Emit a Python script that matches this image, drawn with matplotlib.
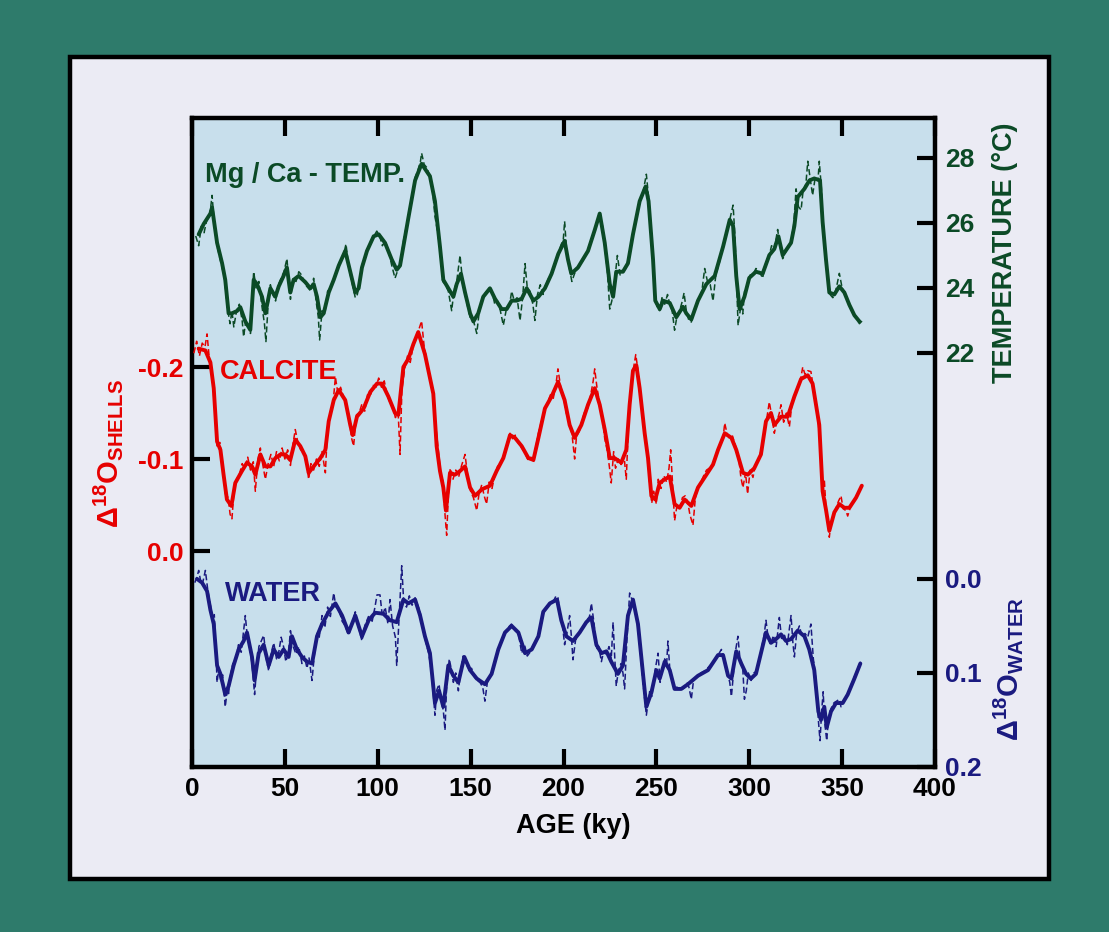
import numpy as np
import matplotlib
matplotlib.use('Agg')
import matplotlib.pyplot as plt
from matplotlib.patches import Rectangle

plt.rcParams['font.family'] = ['Liberation Sans', 'DejaVu Sans']
plt.rcParams['font.weight'] = 'bold'
plt.rcParams['mathtext.fontset'] = 'custom'
plt.rcParams['mathtext.rm'] = 'Liberation Sans:bold'
plt.rcParams['mathtext.it'] = 'Liberation Sans:bold'
plt.rcParams['mathtext.bf'] = 'Liberation Sans:bold'
plt.rcParams['mathtext.sf'] = 'Liberation Sans:bold'

GREEN = '#0b4a26'
RED = '#e60000'
NAVY = '#1a1a80'

# ---- Mg/Ca temperature (age ky, deg C) ----
temp_smooth = [(3.6, 25.65), (6.3, 25.97), (9.9, 26.29), (10.8, 26.48), (13.5, 25.39), (16.2, 24.76),
               (17.9, 24.25), (19.7, 23.22), (21.5, 23.22), (24.2, 23.29), (26.0, 23.41), (28.7, 22.97),
               (31.4, 22.71), (33.2, 24.25), (35.0, 24.12), (37.7, 23.73), (39.5, 23.22), (42.2, 23.99),
               (44.9, 23.73), (46.7, 24.05), (49.3, 24.37), (51.1, 24.63), (52.9, 23.86), (54.7, 24.25),
               (57.4, 24.37), (61.0, 24.18), (63.7, 23.99), (65.5, 24.12), (67.3, 23.73), (69.1, 23.10),
               (70.9, 23.22), (73.6, 23.86), (76.3, 24.25), (79.0, 24.69), (82.5, 25.14), (85.2, 24.50),
               (87.9, 23.86), (89.7, 23.99), (91.5, 24.63), (94.2, 25.14), (97.8, 25.59), (100.5, 25.65),
               (103.9, 25.39), (107.5, 24.88), (110.2, 24.56), (112.0, 24.69), (116.5, 26.16), (120.1, 27.31),
               (123.6, 27.82), (128.1, 27.44), (130.8, 26.67), (133.5, 25.27), (135.3, 24.25), (138.0, 23.99),
               (140.7, 23.73), (142.5, 24.12), (144.8, 24.44), (147.0, 23.86), (149.7, 23.22), (151.5, 22.97),
               (154.1, 23.22), (156.8, 23.73), (160.4, 23.99), (163.1, 23.67), (166.7, 23.35), (169.4, 23.35),
               (172.1, 23.61), (174.8, 23.61), (177.5, 23.67), (180.2, 23.99), (183.8, 23.61), (186.5, 23.73),
               (190.0, 23.99), (193.6, 24.44), (197.2, 25.05), (200.6, 25.45), (202.4, 24.88), (204.2, 24.44),
               (207.8, 24.63), (213.2, 25.14), (216.8, 25.78), (219.5, 26.29), (222.2, 25.39), (224.9, 24.12),
               (226.7, 23.73), (228.4, 24.50), (232.0, 24.50), (234.7, 24.76), (237.4, 25.65), (241.0, 26.67),
               (244.2, 27.12), (245.8, 26.67), (248.2, 24.88), (249.4, 23.61), (251.8, 23.35), (253.6, 23.61),
               (257.2, 23.54), (260.7, 23.10), (264.3, 23.42), (266.1, 23.22), (268.8, 23.03), (272.4, 23.61),
               (276.9, 24.12), (281.4, 24.37), (285.9, 25.27), (289.5, 26.10), (291.3, 25.91), (293.0, 24.37),
               (294.8, 23.35), (297.4, 23.73), (300.0, 24.31), (303.6, 24.50), (307.2, 24.44), (310.8, 25.01),
               (313.5, 25.20), (315.7, 25.59), (318.0, 25.01), (322.5, 25.39), (324.3, 25.91), (326.1, 26.80),
               (329.7, 27.05), (332.4, 27.31), (335.0, 27.37), (338.1, 27.31), (339.5, 26.03), (341.3, 24.88),
               (343.1, 23.86), (345.8, 23.80), (348.5, 24.05), (351.2, 23.86), (353.9, 23.48), (356.6, 23.16),
               (359.3, 22.97)]

temp_raw = [(2.0, 25.6), (3.6, 25.3), (5.0, 25.9), (6.5, 25.7), (8.0, 26.1), (9.5, 26.2), (10.8, 26.85),
            (12.0, 26.0), (13.5, 25.3), (15.5, 24.8), (17.5, 24.3), (19.0, 23.4), (20.5, 22.9), (21.5, 23.3),
            (22.5, 22.8), (24.0, 23.3), (25.5, 23.5), (27.0, 23.0), (27.8, 22.5), (29.0, 23.0), (30.5, 22.8),
            (31.5, 22.6), (32.5, 23.8), (33.2, 24.5), (34.5, 24.0), (36.0, 24.2), (37.5, 23.5), (39.0, 22.9),
            (39.8, 22.35), (41.0, 23.5), (42.2, 24.1), (43.5, 23.8), (45.0, 23.6), (46.5, 24.1), (48.0, 24.3),
            (49.5, 24.5), (51.1, 24.9), (52.0, 24.3), (53.0, 23.65), (54.5, 24.3), (56.0, 24.2), (57.5, 24.5),
            (59.0, 24.4), (61.0, 24.1), (62.5, 24.0), (64.0, 23.9), (65.5, 24.3), (66.8, 23.6), (68.0, 23.1),
            (68.7, 22.4), (70.0, 23.3), (71.5, 23.2), (73.0, 23.9), (74.5, 24.0), (76.3, 24.3), (78.0, 24.5),
            (79.5, 24.8), (81.5, 25.0), (82.9, 25.35), (84.5, 24.6), (86.0, 24.2), (87.9, 23.7), (89.0, 23.8),
            (90.5, 24.2), (91.5, 24.7), (93.0, 24.9), (94.5, 25.2), (96.0, 25.4), (98.0, 25.6), (99.5, 25.75),
            (101.0, 25.6), (102.5, 25.3), (104.0, 25.45), (106.0, 25.1), (107.5, 24.7), (109.3, 24.3),
            (110.5, 24.5), (112.0, 24.7), (114.0, 25.5), (116.5, 26.2), (118.5, 26.8), (120.1, 27.4),
            (121.5, 27.6), (123.0, 27.9), (123.6, 28.15), (125.0, 27.8), (126.5, 27.7), (128.1, 27.4),
            (129.5, 27.0), (130.8, 26.2), (132.0, 25.8), (133.5, 25.2), (135.0, 24.2), (136.5, 24.1),
            (138.0, 23.9), (139.8, 23.3), (141.0, 23.9), (142.5, 24.2), (144.3, 25.0), (145.5, 24.3),
            (147.0, 23.8), (148.5, 23.4), (149.7, 23.1), (151.5, 23.0), (153.3, 22.6), (154.5, 23.2),
            (156.0, 23.6), (158.0, 23.85), (160.4, 24.0), (161.5, 23.9), (163.0, 23.5), (164.5, 23.6),
            (166.0, 23.3), (167.6, 22.85), (169.4, 23.4), (171.0, 23.5), (172.1, 23.9), (173.5, 23.6),
            (175.0, 23.7), (176.6, 23.0), (178.0, 23.7), (179.3, 24.75), (180.5, 24.0), (182.0, 23.9),
            (183.5, 23.5), (184.6, 23.0), (186.0, 23.8), (187.5, 24.1), (189.0, 23.8), (190.5, 24.1),
            (192.0, 24.3), (193.6, 24.4), (195.0, 24.7), (197.2, 25.0), (198.5, 25.3), (199.9, 25.5),
            (200.6, 26.05), (201.5, 25.3), (202.5, 24.8), (203.5, 24.5), (204.5, 24.2), (206.0, 24.45),
            (207.8, 24.6), (210.0, 24.8), (212.0, 25.0), (213.5, 25.2), (215.0, 25.5), (217.0, 25.8),
            (218.5, 26.1), (219.5, 26.35), (221.0, 25.9), (222.2, 25.3), (223.5, 24.6), (224.9, 23.35),
            (226.0, 23.6), (227.5, 24.2), (229.0, 25.0), (230.5, 24.4), (232.0, 24.5), (233.5, 24.6),
            (235.0, 24.9), (236.5, 25.4), (238.0, 25.8), (240.0, 26.4), (241.5, 26.7), (243.0, 27.0),
            (244.6, 27.5), (245.8, 26.8), (247.0, 25.9), (248.2, 24.9), (249.4, 23.7), (250.5, 23.4),
            (251.8, 23.3), (253.0, 23.7), (254.5, 23.5), (256.0, 23.8), (257.2, 23.5), (258.5, 23.3),
            (259.8, 22.7), (261.0, 23.1), (262.5, 23.3), (264.0, 23.6), (264.9, 23.85), (266.1, 23.3),
            (267.5, 23.0), (268.8, 22.95), (270.0, 23.2), (272.4, 23.6), (274.5, 23.9), (276.0, 24.6),
            (277.5, 24.2), (279.0, 24.1), (280.5, 23.6), (282.0, 24.4), (284.0, 24.8), (285.9, 25.3),
            (287.5, 25.6), (289.5, 26.1), (291.3, 26.55), (292.3, 25.6), (293.0, 24.5), (294.0, 22.85),
            (295.6, 23.5), (296.5, 23.2), (297.5, 23.9), (299.3, 24.1), (300.5, 24.4), (302.0, 24.4),
            (303.6, 24.6), (305.5, 24.5), (307.2, 24.3), (308.5, 24.7), (310.8, 25.0), (312.0, 25.3),
            (313.5, 25.2), (315.3, 25.8), (316.5, 25.3), (318.0, 24.9), (319.5, 25.1), (321.0, 25.3),
            (322.5, 25.4), (324.0, 26.0), (325.2, 27.05), (326.5, 26.5), (327.9, 26.4), (329.0, 27.0),
            (330.5, 27.2), (331.5, 27.9), (333.0, 27.3), (334.1, 26.85), (335.5, 27.4), (337.0, 27.3),
            (337.7, 27.9), (338.8, 27.1), (339.5, 26.2), (340.5, 25.4), (341.3, 24.9), (342.5, 24.3),
            (343.5, 23.8), (345.0, 23.7), (346.5, 23.9), (348.5, 24.45), (350.0, 24.0), (351.5, 23.85),
            (353.0, 23.6), (354.5, 23.4), (356.0, 23.2), (357.5, 23.1), (359.3, 22.9), (361.0, 23.0)]

# ---- calcite d18O difference (shells) ----
calc_smooth = [(3.6, -0.220), (7.2, -0.218), (9.9, -0.205), (11.7, -0.177), (13.5, -0.119), (15.3, -0.110),
               (17.0, -0.083), (18.8, -0.056), (21.2, -0.049), (23.3, -0.074), (26.9, -0.087), (29.6, -0.096),
               (32.3, -0.092), (34.1, -0.083), (36.8, -0.105), (39.5, -0.092), (42.2, -0.092), (44.9, -0.101),
               (47.6, -0.105), (50.2, -0.105), (52.9, -0.099), (55.6, -0.121), (58.3, -0.114), (61.0, -0.103),
               (62.8, -0.085), (65.5, -0.092), (69.1, -0.101), (71.8, -0.110), (73.6, -0.141), (76.3, -0.164),
               (79.0, -0.175), (82.5, -0.164), (85.2, -0.137), (86.5, -0.126), (88.8, -0.146), (92.4, -0.155),
               (96.0, -0.173), (99.6, -0.182), (102.3, -0.182), (105.7, -0.168), (109.3, -0.150), (111.1, -0.148),
               (113.8, -0.200), (116.5, -0.209), (119.2, -0.225), (121.8, -0.238), (125.4, -0.214), (129.9, -0.171),
               (131.7, -0.114), (133.5, -0.087), (135.3, -0.069), (136.7, -0.044), (138.9, -0.085), (141.6, -0.083),
               (144.3, -0.087), (147.0, -0.092), (149.7, -0.069), (152.4, -0.060), (156.0, -0.067), (160.4, -0.071),
               (164.0, -0.087), (167.6, -0.101), (171.2, -0.126), (173.9, -0.123), (177.5, -0.114), (181.1, -0.101),
               (183.8, -0.099), (186.5, -0.123), (190.0, -0.155), (193.6, -0.168), (197.1, -0.184), (200.6, -0.164),
               (203.3, -0.137), (206.0, -0.123), (209.6, -0.137), (213.2, -0.159), (216.8, -0.177), (219.5, -0.159),
               (222.2, -0.132), (224.9, -0.101), (227.5, -0.101), (231.1, -0.096), (233.8, -0.110), (235.6, -0.159),
               (237.4, -0.196), (239.2, -0.202), (241.0, -0.177), (243.7, -0.128), (245.5, -0.101), (247.3, -0.060),
               (249.4, -0.056), (251.8, -0.074), (254.5, -0.078), (257.2, -0.081), (259.8, -0.051), (262.5, -0.047),
               (265.2, -0.056), (268.8, -0.049), (272.4, -0.069), (276.9, -0.083), (280.5, -0.094), (283.2, -0.110),
               (286.8, -0.128), (290.4, -0.123), (293.0, -0.110), (296.6, -0.085), (299.2, -0.083), (302.7, -0.090),
               (306.3, -0.105), (309.0, -0.141), (311.7, -0.150), (313.5, -0.137), (317.1, -0.146), (320.7, -0.146),
               (324.3, -0.168), (327.9, -0.187), (331.5, -0.191), (334.1, -0.182), (337.7, -0.137), (339.5, -0.065),
               (341.3, -0.045), (343.1, -0.022), (345.8, -0.042), (348.5, -0.051), (351.2, -0.047), (353.9, -0.047),
               (357.5, -0.058), (360.6, -0.071)]

calc_raw = [(1.0, -0.215), (2.5, -0.228), (4.0, -0.212), (5.5, -0.226), (7.0, -0.222), (8.1, -0.236),
            (9.5, -0.205), (11.0, -0.185), (12.5, -0.150), (13.5, -0.112), (15.0, -0.118), (16.5, -0.095),
            (18.0, -0.062), (19.5, -0.058), (20.5, -0.040), (21.5, -0.035), (22.5, -0.062), (24.0, -0.078),
            (25.5, -0.083), (27.0, -0.095), (28.5, -0.090), (30.0, -0.102), (31.5, -0.088), (33.0, -0.097),
            (34.1, -0.065), (35.5, -0.100), (36.8, -0.112), (38.0, -0.095), (39.5, -0.078), (41.0, -0.095),
            (42.5, -0.105), (44.0, -0.092), (45.5, -0.108), (47.0, -0.098), (48.5, -0.112), (50.0, -0.100),
            (51.5, -0.110), (53.0, -0.093), (54.5, -0.118), (55.6, -0.132), (57.0, -0.118), (58.5, -0.110),
            (60.0, -0.108), (61.5, -0.098), (62.8, -0.078), (64.0, -0.095), (65.5, -0.088), (67.0, -0.100),
            (68.5, -0.092), (70.0, -0.108), (71.8, -0.085), (73.0, -0.135), (74.5, -0.150), (76.0, -0.162),
            (77.2, -0.189), (78.5, -0.172), (80.0, -0.178), (81.5, -0.168), (83.0, -0.160), (84.5, -0.145),
            (86.0, -0.122), (87.0, -0.114), (88.5, -0.148), (90.0, -0.150), (91.5, -0.160), (93.0, -0.152),
            (94.5, -0.170), (96.0, -0.168), (97.5, -0.180), (99.0, -0.178), (100.5, -0.188), (102.0, -0.178),
            (103.5, -0.185), (105.0, -0.170), (106.5, -0.162), (108.0, -0.158), (109.5, -0.145), (111.0, -0.150),
            (112.0, -0.105), (113.0, -0.175), (114.5, -0.198), (116.0, -0.212), (117.5, -0.205), (119.0, -0.222),
            (120.5, -0.232), (122.0, -0.240), (123.6, -0.250), (125.0, -0.222), (126.5, -0.205), (128.0, -0.190),
            (129.9, -0.172), (131.0, -0.140), (132.6, -0.110), (134.0, -0.082), (135.3, -0.075), (136.2, -0.040),
            (137.1, -0.017), (138.0, -0.060), (139.0, -0.090), (140.5, -0.078), (142.0, -0.088), (143.5, -0.080),
            (145.0, -0.092), (147.0, -0.105), (148.5, -0.080), (150.0, -0.065), (151.5, -0.058), (153.3, -0.044),
            (154.5, -0.062), (156.0, -0.072), (157.3, -0.060), (158.6, -0.051), (160.0, -0.075), (161.5, -0.068),
            (163.0, -0.082), (164.5, -0.092), (166.0, -0.095), (167.6, -0.103), (169.0, -0.112), (171.2, -0.128),
            (172.5, -0.122), (174.0, -0.126), (175.5, -0.118), (177.5, -0.112), (179.0, -0.108), (181.1, -0.098),
            (182.5, -0.102), (183.8, -0.096), (185.0, -0.112), (186.5, -0.128), (188.0, -0.140), (190.0, -0.152),
            (191.5, -0.162), (193.0, -0.170), (194.5, -0.166), (196.0, -0.182), (197.0, -0.198), (198.5, -0.178),
            (200.0, -0.168), (201.5, -0.150), (203.0, -0.140), (204.5, -0.128), (206.0, -0.100), (207.0, -0.125),
            (208.5, -0.130), (210.0, -0.142), (211.5, -0.152), (213.0, -0.155), (214.5, -0.168), (216.0, -0.185),
            (216.8, -0.198), (218.0, -0.178), (219.5, -0.160), (221.0, -0.145), (222.2, -0.122), (223.5, -0.110),
            (224.8, -0.090), (225.7, -0.074), (227.0, -0.108), (228.0, -0.090), (229.5, -0.100), (231.0, -0.094),
            (232.5, -0.105), (233.8, -0.078), (235.0, -0.140), (236.5, -0.180), (237.8, -0.200), (238.9, -0.2135),
            (240.0, -0.198), (241.5, -0.170), (243.0, -0.138), (244.5, -0.115), (245.5, -0.100), (246.5, -0.070),
            (247.5, -0.052), (248.5, -0.065), (250.0, -0.051), (251.0, -0.078), (252.5, -0.068), (254.0, -0.082),
            (255.5, -0.075), (256.8, -0.090), (257.7, -0.110), (258.8, -0.070), (259.8, -0.033), (261.0, -0.048),
            (262.5, -0.045), (264.0, -0.058), (265.5, -0.060), (267.0, -0.052), (268.0, -0.040), (269.7, -0.028),
            (271.0, -0.058), (272.5, -0.070), (274.0, -0.075), (275.5, -0.082), (277.0, -0.088), (278.5, -0.090),
            (280.0, -0.092), (281.5, -0.100), (283.0, -0.108), (284.5, -0.118), (286.0, -0.125), (286.8, -0.139),
            (288.0, -0.128), (289.5, -0.122), (291.0, -0.125), (292.5, -0.115), (293.5, -0.105), (294.5, -0.098),
            (295.5, -0.080), (296.6, -0.069), (298.0, -0.085), (299.1, -0.062), (300.5, -0.088), (302.0, -0.080),
            (303.5, -0.095), (305.0, -0.100), (306.5, -0.110), (308.0, -0.128), (309.5, -0.145), (310.8, -0.162),
            (312.0, -0.148), (313.5, -0.128), (315.0, -0.142), (316.2, -0.150), (317.1, -0.159), (318.5, -0.140),
            (320.0, -0.150), (321.6, -0.135), (323.0, -0.160), (324.5, -0.170), (326.0, -0.178), (327.5, -0.185),
            (328.8, -0.200), (330.0, -0.192), (331.5, -0.196), (333.2, -0.195), (334.5, -0.178), (336.0, -0.160),
            (337.5, -0.132), (338.5, -0.110), (339.5, -0.060), (340.4, -0.078), (341.5, -0.040), (342.5, -0.030),
            (343.1, -0.015), (344.0, -0.030), (345.5, -0.040), (347.0, -0.048), (348.0, -0.054), (349.4, -0.060),
            (350.5, -0.046), (352.0, -0.044), (353.0, -0.038), (354.5, -0.048), (356.0, -0.052), (357.5, -0.058),
            (359.0, -0.064), (360.6, -0.072)]

# ---- water d18O difference ----
water_smooth = [(2.7, 0.000), (5.4, 0.004), (8.1, 0.013), (9.9, 0.033), (11.7, 0.048), (13.5, 0.092),
                (15.3, 0.101), (17.9, 0.123), (19.7, 0.114), (22.4, 0.092), (25.1, 0.075), (27.8, 0.066),
                (29.6, 0.057), (32.3, 0.083), (33.7, 0.108), (35.9, 0.079), (38.6, 0.070), (41.3, 0.092),
                (44.0, 0.075), (46.7, 0.083), (49.3, 0.075), (52.0, 0.083), (53.8, 0.061), (56.5, 0.075),
                (59.2, 0.083), (61.9, 0.088), (64.6, 0.090), (67.3, 0.061), (70.0, 0.048), (73.6, 0.035),
                (77.2, 0.026), (80.8, 0.039), (84.3, 0.057), (87.9, 0.039), (91.5, 0.061), (95.1, 0.044),
                (98.6, 0.036), (103.0, 0.037), (106.6, 0.044), (110.2, 0.046), (113.8, 0.022), (116.5, 0.026),
                (120.1, 0.022), (122.8, 0.039), (125.4, 0.061), (128.1, 0.079), (130.8, 0.132), (133.0, 0.119),
                (135.3, 0.136), (138.0, 0.092), (140.7, 0.103), (143.4, 0.110), (146.6, 0.083), (149.7, 0.097),
                (153.3, 0.106), (157.7, 0.112), (161.3, 0.101), (164.9, 0.075), (168.5, 0.057), (172.1, 0.050),
                (175.7, 0.057), (179.3, 0.079), (182.9, 0.075), (186.5, 0.061), (189.1, 0.035), (192.7, 0.026),
                (196.5, 0.022), (198.8, 0.044), (201.5, 0.061), (205.1, 0.066), (208.7, 0.057), (212.3, 0.046),
                (215.0, 0.041), (217.7, 0.070), (220.4, 0.079), (223.1, 0.077), (225.7, 0.088), (229.3, 0.101),
                (232.0, 0.092), (234.7, 0.039), (237.4, 0.022), (240.1, 0.048), (242.8, 0.101), (244.6, 0.136),
                (247.3, 0.121), (250.0, 0.097), (251.8, 0.106), (254.5, 0.088), (257.2, 0.097), (259.8, 0.117),
                (263.4, 0.117), (267.0, 0.112), (272.4, 0.103), (277.8, 0.097), (283.2, 0.081), (285.9, 0.081),
                (288.6, 0.103), (290.4, 0.106), (293.0, 0.077), (295.7, 0.090), (298.3, 0.101), (300.9, 0.106),
                (303.6, 0.101), (306.3, 0.079), (309.0, 0.057), (311.7, 0.068), (314.4, 0.064), (317.1, 0.059),
                (319.8, 0.066), (322.5, 0.064), (326.1, 0.055), (329.7, 0.061), (332.3, 0.075), (335.0, 0.097),
                (337.2, 0.141), (338.6, 0.150), (340.4, 0.136), (341.7, 0.158), (344.0, 0.141), (346.7, 0.132),
                (350.3, 0.132), (353.0, 0.123), (356.6, 0.106), (359.8, 0.090)]

water_raw = [(1.5, 0.004), (2.7, -0.002), (3.6, -0.009), (5.0, 0.006), (6.0, 0.002), (7.2, -0.009),
             (8.5, 0.012), (9.9, 0.028), (11.0, 0.042), (12.0, 0.038), (13.0, 0.082), (13.5, 0.110),
             (14.5, 0.095), (15.5, 0.108), (16.5, 0.102), (17.9, 0.136), (19.0, 0.118), (19.7, 0.122),
             (20.5, 0.105), (22.0, 0.090), (23.5, 0.088), (25.0, 0.070), (26.5, 0.078), (27.5, 0.060),
             (28.7, 0.039), (29.8, 0.062), (31.0, 0.072), (32.3, 0.090), (33.7, 0.123), (34.8, 0.095),
             (36.0, 0.072), (37.5, 0.065), (38.6, 0.060), (40.0, 0.085), (41.3, 0.098), (42.5, 0.080),
             (44.0, 0.068), (45.5, 0.085), (46.7, 0.078), (48.0, 0.062), (49.3, 0.072), (50.5, 0.088),
             (52.0, 0.078), (53.0, 0.055), (54.5, 0.072), (56.0, 0.080), (57.5, 0.072), (59.2, 0.090),
             (60.5, 0.082), (61.9, 0.095), (63.0, 0.084), (64.6, 0.108), (66.0, 0.078), (67.3, 0.058),
             (68.5, 0.062), (70.0, 0.039), (71.5, 0.052), (73.0, 0.030), (74.5, 0.040), (76.3, 0.015),
             (77.5, 0.030), (79.0, 0.032), (80.8, 0.045), (82.5, 0.050), (84.3, 0.060), (86.0, 0.048),
             (87.9, 0.035), (89.5, 0.050), (91.5, 0.066), (93.0, 0.050), (95.0, 0.040), (97.0, 0.045),
             (98.5, 0.030), (99.6, 0.017), (101.2, 0.017), (102.5, 0.040), (104.0, 0.030), (105.5, 0.048),
             (106.6, 0.022), (108.0, 0.050), (109.5, 0.062), (110.2, 0.092), (111.5, 0.040), (112.9, -0.014),
             (114.0, 0.025), (115.5, 0.030), (117.0, 0.018), (118.5, 0.028), (120.1, 0.020), (121.5, 0.028),
             (122.8, 0.035), (124.5, 0.055), (126.0, 0.068), (127.5, 0.080), (129.0, 0.100), (130.0, 0.125),
             (130.8, 0.145), (131.8, 0.118), (133.0, 0.112), (134.0, 0.128), (135.3, 0.140), (136.2, 0.161),
             (137.0, 0.118), (138.5, 0.085), (139.5, 0.095), (140.7, 0.110), (142.0, 0.100), (143.4, 0.119),
             (144.5, 0.100), (146.0, 0.082), (147.5, 0.088), (149.0, 0.098), (150.5, 0.095), (152.0, 0.104),
             (153.5, 0.108), (155.0, 0.110), (156.5, 0.115), (157.7, 0.130), (159.0, 0.110), (160.5, 0.104),
             (162.0, 0.096), (163.5, 0.085), (165.0, 0.075), (166.5, 0.066), (168.0, 0.060), (170.0, 0.052),
             (172.0, 0.048), (174.0, 0.055), (175.7, 0.058), (177.5, 0.079), (179.0, 0.070), (180.5, 0.082),
             (182.0, 0.078), (183.5, 0.072), (185.0, 0.066), (186.5, 0.062), (188.0, 0.048), (189.5, 0.032),
             (191.0, 0.030), (192.7, 0.025), (194.5, 0.024), (196.0, 0.018), (197.0, 0.020), (198.0, 0.035),
             (199.5, 0.050), (200.6, 0.070), (201.8, 0.058), (203.3, 0.039), (204.2, 0.060), (205.1, 0.086),
             (206.5, 0.065), (208.0, 0.060), (209.5, 0.055), (211.0, 0.050), (212.5, 0.044), (214.0, 0.040),
             (215.0, 0.026), (216.5, 0.048), (217.7, 0.075), (219.0, 0.072), (220.4, 0.088), (221.5, 0.078),
             (223.1, 0.080), (224.5, 0.072), (225.7, 0.085), (226.7, 0.046), (227.5, 0.080), (228.4, 0.114),
             (229.5, 0.098), (231.0, 0.090), (232.0, 0.100), (232.9, 0.117), (234.0, 0.070), (235.0, 0.035),
             (235.6, 0.015), (236.5, 0.020), (237.5, 0.025), (238.5, 0.030), (240.1, 0.052), (241.5, 0.080),
             (242.8, 0.110), (243.8, 0.130), (244.6, 0.145), (245.5, 0.132), (246.5, 0.118), (247.5, 0.125),
             (248.5, 0.110), (249.5, 0.095), (250.9, 0.079), (252.0, 0.110), (253.0, 0.098), (254.5, 0.085),
             (255.5, 0.092), (256.2, 0.066), (257.2, 0.095), (258.5, 0.108), (259.8, 0.118), (261.0, 0.115),
             (263.0, 0.118), (265.0, 0.116), (266.5, 0.110), (267.5, 0.115), (268.8, 0.128), (270.0, 0.108),
             (272.0, 0.104), (274.0, 0.100), (276.0, 0.098), (278.0, 0.094), (280.0, 0.090), (282.0, 0.084),
             (283.5, 0.080), (285.0, 0.075), (286.5, 0.084), (288.0, 0.098), (289.5, 0.110), (290.4, 0.125),
             (291.5, 0.100), (292.5, 0.078), (293.9, 0.061), (295.0, 0.085), (296.5, 0.095), (297.4, 0.128),
             (298.4, 0.119), (299.5, 0.100), (301.0, 0.108), (302.5, 0.100), (304.0, 0.098), (305.5, 0.085),
             (307.0, 0.070), (308.0, 0.060), (309.0, 0.044), (310.0, 0.060), (311.5, 0.070), (313.0, 0.060),
             (314.5, 0.072), (316.2, 0.041), (317.5, 0.065), (319.0, 0.060), (320.5, 0.070), (322.5, 0.039),
             (323.5, 0.068), (324.3, 0.083), (325.5, 0.058), (327.0, 0.050), (328.5, 0.062), (330.0, 0.058),
             (331.5, 0.062), (333.2, 0.048), (334.5, 0.085), (335.5, 0.100), (336.5, 0.125), (337.2, 0.150),
             (338.1, 0.172), (339.0, 0.140), (339.8, 0.120), (340.5, 0.150), (341.7, 0.172), (342.8, 0.145),
             (344.0, 0.138), (345.5, 0.132), (347.0, 0.130), (348.5, 0.128), (349.4, 0.136), (350.5, 0.130),
             (352.0, 0.126), (353.5, 0.120), (355.0, 0.112), (356.6, 0.104), (358.0, 0.098), (359.8, 0.088)]

age_ticks = [0, 50, 100, 150, 200, 250, 300, 350, 400]
calc_ticks = [-0.2, -0.1, 0.0]
calc_ticklabels = ['-0.2', '-0.1', '0.0']
temp_ticks = [22, 24, 26, 28]
water_ticks = [0.0, 0.1, 0.2]
water_ticklabels = ['0.0', '0.1', '0.2']

W, H = 1109, 932
fig = plt.figure(figsize=(W / 100, H / 100), dpi=100, facecolor='#2e7b6b')
fig.patches.append(Rectangle((70 / W, 1 - 879 / H), 979 / W, 822 / H, transform=fig.transFigure,
                             facecolor='#ebebf4', edgecolor='black', linewidth=3.2, zorder=-5))

ax = fig.add_axes([192 / W, 1 - 767 / H, 743 / W, 649 / H])
ax.set_facecolor('#c8dfec')
ax2 = ax.twinx()
ax3 = ax.twinx()

def draw(a, smooth, raw, color):
    xs, ys = zip(*smooth)
    xr, yr = zip(*raw)
    a.plot(xs, ys, color=color, lw=2.8, solid_joinstyle='round', solid_capstyle='round', zorder=3)
    a.plot(xr, yr, color=color, lw=1.1, dashes=(4, 2), zorder=4)

draw(ax, calc_smooth, calc_raw, RED)
draw(ax2, temp_smooth, temp_raw, GREEN)
draw(ax3, water_smooth, water_raw, NAVY)

ax.set_xlim(0, 400)
ax.set_ylim(0.2348, -0.4707)
ax2.set_ylim(9.26, 29.23)
ax3.set_ylim(0.2, -0.490)

for s in ax.spines.values():
    s.set_linewidth(3.2)
    s.set_color('black')
for a in (ax2, ax3):
    for s in a.spines.values():
        s.set_visible(False)

ax.set_xticks(age_ticks)
ax.tick_params(axis='x', top=True, bottom=True, direction='in', length=13, width=3,
               labelsize=19, pad=7, labelcolor='black')
ax.set_yticks(calc_ticks)
ax.set_yticklabels(calc_ticklabels)
ax.tick_params(axis='y', left=True, right=False, direction='in', length=13, width=3,
               labelsize=19, pad=6, labelcolor=RED)

ax2.set_yticks(temp_ticks)
ax2.tick_params(axis='y', right=True, left=False, direction='in', length=13, width=3,
                labelsize=19, pad=7, labelcolor=GREEN)
ax3.set_yticks(water_ticks)
ax3.set_yticklabels(water_ticklabels)
ax3.tick_params(axis='y', right=True, left=False, direction='in', length=13, width=3,
                labelsize=19, pad=7, labelcolor=NAVY)
for t in ax.get_xticklabels() + ax.get_yticklabels() + ax2.get_yticklabels() + ax3.get_yticklabels():
    t.set_fontweight('bold')

fig.text(205 / W, 1 - 182 / H, 'Mg / Ca - TEMP.', color=GREEN, fontsize=19.5, fontweight='bold',
         ha='left', va='baseline')
fig.text(220 / W, 1 - 379 / H, 'CALCITE', color=RED, fontsize=19.5, fontweight='bold',
         ha='left', va='baseline')
fig.text(225 / W, 1 - 601 / H, 'WATER', color=NAVY, fontsize=19.5, fontweight='bold',
         ha='left', va='baseline')

fig.text(573 / W, 1 - 826 / H, 'AGE (ky)', color='black', fontsize=19.5, fontweight='bold',
         ha='center', va='center')
fig.text(108 / W, 1 - 453 / H, r'$\Delta^{18}$O$_{\mathrm{SHELLS}}$', color=RED, fontsize=21,
         fontweight='bold', rotation=90, ha='center', va='center')
fig.text(1005 / W, 1 - 253 / H, 'TEMPERATURE (°C)', color=GREEN, fontsize=19.5, fontweight='bold',
         rotation=90, ha='center', va='center')
fig.text(1008 / W, 1 - 669 / H, r'$\Delta^{18}$O$_{\mathrm{WATER}}$', color=NAVY, fontsize=21,
         fontweight='bold', rotation=90, ha='center', va='center')

fig.savefig('out.png', dpi=100, facecolor=fig.get_facecolor())
